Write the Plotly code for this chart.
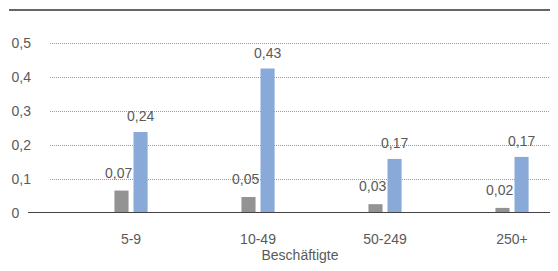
import plotly.graph_objects as go

categories = ["5-9", "10-49", "50-249", "250+"]
gray_values = [0.066, 0.047, 0.026, 0.015]
blue_values = [0.238, 0.425, 0.159, 0.165]
gray_labels = ["0,07", "0,05", "0,03", "0,02"]
blue_labels = ["0,24", "0,43", "0,17", "0,17"]
y_tickvals = [0, 0.1, 0.2, 0.3, 0.4, 0.5]
y_ticktext = ["0\u2008\u2007", "0,1", "0,2", "0,3", "0,4", "0,5"]
x_title = "Beschäftigte"

FONT = "Liberation Sans, Arial, sans-serif"
TXT = "#5a5a5a"
GRAY = "#939393"
BLUE = "#89a9d9"

fig = go.Figure()
fig.add_trace(go.Bar(x=categories, y=gray_values, marker=dict(color=GRAY, line=dict(width=0)), showlegend=False, hoverinfo="skip"))
fig.add_trace(go.Bar(x=categories, y=blue_values, marker=dict(color=BLUE, line=dict(width=0)), showlegend=False, hoverinfo="skip"))

annotations = []
for cat, v, t in zip(categories, gray_values, gray_labels):
    annotations.append(dict(x=cat, y=v, text=t, showarrow=False, xshift=-12.5, yshift=18,
                            yanchor="middle", font=dict(family=FONT, size=14, color=TXT)))
for cat, v, t in zip(categories, blue_values, blue_labels):
    annotations.append(dict(x=cat, y=v, text=t, showarrow=False, xshift=9.5, yshift=16,
                            yanchor="middle", font=dict(family=FONT, size=14, color=TXT)))

# page body has an 8px margin, so the figure is shifted by 8px and sized to fit the window
fig.update_layout(
    template="none",
    width=542, height=255,
    margin=dict(l=42, r=0, t=18, b=50),
    paper_bgcolor="white", plot_bgcolor="white",
    barmode="group", bargap=0.70, bargroupgap=0.26,
    font=dict(family=FONT, size=14, color=TXT),
    annotations=annotations,
    shapes=[
        dict(type="line", xref="paper", yref="paper", x0=-0.082, x1=1, y0=1.0856, y1=1.0856,
             line=dict(color="#333333", width=1.5)),
        dict(type="line", xref="paper", yref="y", x0=-0.044, x1=1, y0=0, y1=0,
             line=dict(color="#444444", width=2), layer="above"),
    ],
)
fig.update_xaxes(type="category", range=[-0.638, 3.299], showgrid=False, zeroline=False, showline=False,
                 automargin=False,
                 ticks="", ticklabelstandoff=16, tickfont=dict(family=FONT, size=14, color=TXT),
                 title=dict(text=x_title, standoff=10, font=dict(family=FONT, size=14, color=TXT)))
fig.update_yaxes(range=[0, 0.55], tickvals=y_tickvals, ticktext=y_ticktext, showgrid=True,
                 automargin=False,
                 gridcolor="#9a9a9a", gridwidth=1, griddash="1px,1px", zeroline=False, showline=False,
                 ticks="", ticklabelstandoff=18, tickfont=dict(family=FONT, size=14, color=TXT))

fig.write_html("out.html")
